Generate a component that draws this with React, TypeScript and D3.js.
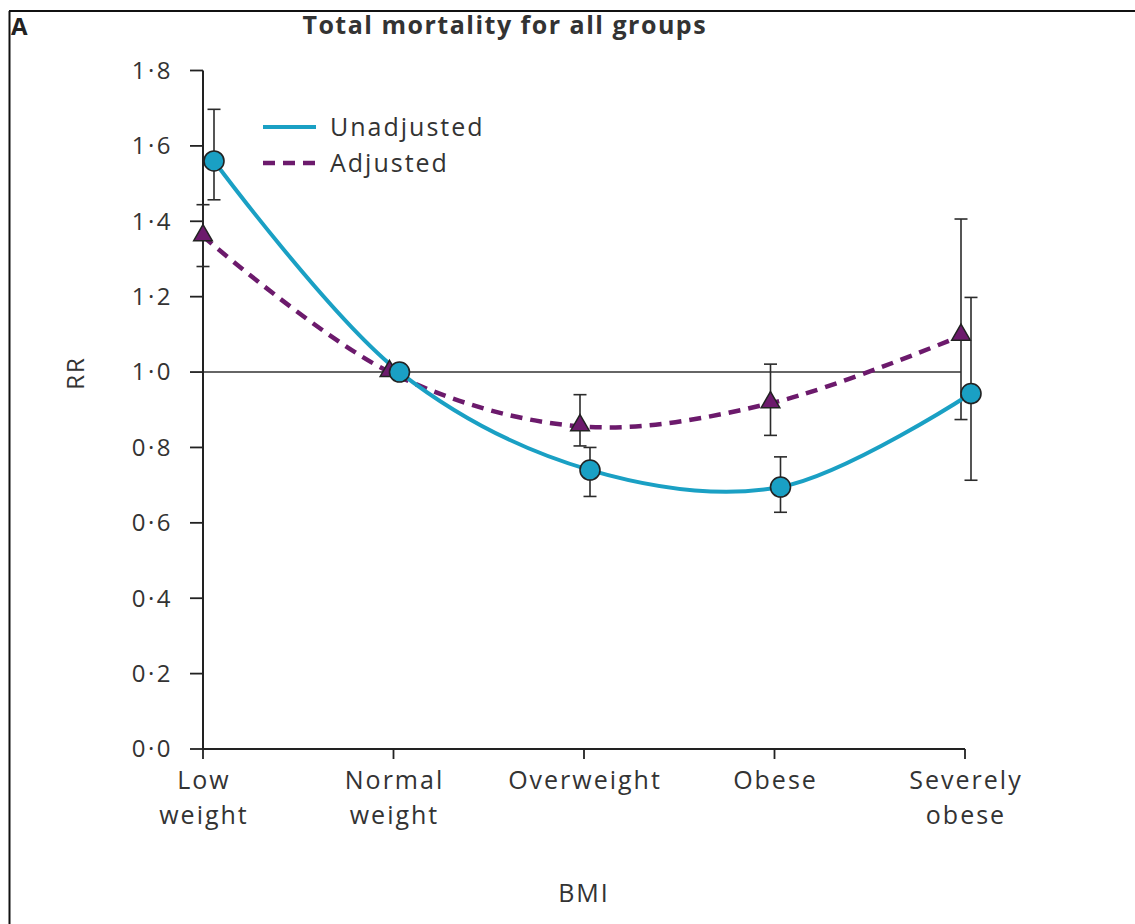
import React from "react";
import * as d3 from "d3";

// BMI categories (two-line axis labels)
const categories: string[][] = [
  ["Low", "weight"],
  ["Normal", "weight"],
  ["Overweight"],
  ["Obese"],
  ["Severely", "obese"],
];

// Relative risk, unadjusted model
const unadjusted = [1.56, 1.0, 0.74, 0.695, 0.943];
const unadjustedLow = [1.457, null, 0.67, 0.628, 0.713];
const unadjustedHigh = [1.697, null, 0.8, 0.775, 1.198];

// Relative risk, adjusted model
const adjusted = [1.36, 1.0, 0.856, 0.917, 1.096];
const adjustedLow = [1.28, null, 0.804, 0.832, 0.874];
const adjustedHigh = [1.444, null, 0.94, 1.021, 1.406];

const yTicks = [0, 0.2, 0.4, 0.6, 0.8, 1.0, 1.2, 1.4, 1.6, 1.8];

const W = 1135;
const H = 924;
const FONT = "'Open Sans', Lato, sans-serif";
const TEXT = "#333";
const TEAL = "#1aa0c4";
const PURPLE = "#6c1a6c";
const LS = 2; // letter spacing for labels

const fmt = (v: number) => v.toFixed(1).replace(".", "\u00b7");

export default function App() {
  const x = d3
    .scalePoint<number>()
    .domain(categories.map((_, i) => i))
    .range([203, 965]);
  const y = d3.scaleLinear().domain([0, 1.8]).range([749, 70.5]);

  const dodgeAdj = -4;
  const dodgeUnadj = 6;

  const line = d3
    .line<[number, number]>()
    .x((d) => d[0])
    .y((d) => d[1])
    .curve(d3.curveCatmullRom.alpha(0.5));

  const unadjPts: [number, number][] = unadjusted.map((v, i) => [
    (x(i) as number) + dodgeUnadj + (i === 0 ? 5 : 0),
    y(v),
  ]);
  const adjPts: [number, number][] = adjusted.map((v, i) => [
    Math.max(x(0) as number, (x(i) as number) + dodgeAdj),
    y(v),
  ]);

  const x0 = x(0) as number;
  const xN = x(categories.length - 1) as number;

  const errorBar = (
    cx: number,
    lo: number | null,
    hi: number | null,
    key: string
  ) => {
    if (lo == null || hi == null) return null;
    const cap = 6.5;
    return (
      <g key={key} stroke="#2b2b2b" strokeWidth={1.6} fill="none">
        <line x1={cx} x2={cx} y1={y(hi)} y2={y(lo)} />
        <line x1={cx - cap} x2={cx + cap} y1={y(hi)} y2={y(hi)} />
        <line x1={cx - cap} x2={cx + cap} y1={y(lo)} y2={y(lo)} />
      </g>
    );
  };

  const tri = d3.symbol(d3.symbolTriangle, 150)();

  return (
    <svg
      width={W}
      height={H}
      style={{ position: "absolute", left: 0, top: 0, display: "block", background: "#fff" }}
      fontFamily={FONT}
    >
      {/* panel frame: top and left rules */}
      <line x1={9} x2={W} y1={11} y2={11} stroke="#111" strokeWidth={2} />
      <line x1={9.5} x2={9.5} y1={11} y2={H} stroke="#111" strokeWidth={2} />

      <text x={11} y={35} fontSize={24} fontWeight={700} fill="#222">
        A
      </text>
      <text
        x={504 + 0.75}
        y={34}
        fontSize={25}
        fontWeight={700}
        letterSpacing={1.5}
        fill="#333"
        textAnchor="middle"
      >
        Total mortality for all groups
      </text>

      {/* reference line at RR = 1 */}
      <line
        x1={x0}
        x2={(x(4) as number) + dodgeAdj}
        y1={y(1)}
        y2={y(1)}
        stroke="#333"
        strokeWidth={1.6}
      />

      {/* y axis */}
      <g>
        <line x1={x0} x2={x0} y1={y(1.8)} y2={y(0)} stroke="#222" strokeWidth={2} />
        {yTicks.map((t) => (
          <g key={t}>
            <line x1={x0 - 13} x2={x0} y1={y(t)} y2={y(t)} stroke="#222" strokeWidth={1.8} />
            <text
              x={173}
              y={y(t)}
              dy="0.35em"
              textAnchor="end"
              fontSize={24}
              letterSpacing={2.5}
              fill={TEXT}
            >
              {fmt(t)}
            </text>
          </g>
        ))}
      </g>

      {/* x axis */}
      <g>
        <line x1={x0} x2={xN} y1={y(0)} y2={y(0)} stroke="#222" strokeWidth={2} />
        {categories.map((c, i) => (
          <g key={i}>
            <line
              x1={x(i) as number}
              x2={x(i) as number}
              y1={y(0)}
              y2={y(0) + 10}
              stroke="#222"
              strokeWidth={1.8}
            />
            {c.map((s, j) => (
              <text
                key={j}
                x={(x(i) as number) + LS / 2}
                y={780 + j * 35}
                dy="0.35em"
                textAnchor="middle"
                fontSize={25}
                letterSpacing={LS}
                fill={TEXT}
              >
                {s}
              </text>
            ))}
          </g>
        ))}
      </g>

      <text
        transform={`translate(76, ${y(1) + 1}) rotate(-90)`}
        textAnchor="middle"
        dy="0.35em"
        fontSize={24}
        letterSpacing={LS}
        fill={TEXT}
      >
        RR
      </text>
      <text
        x={583 + LS / 2}
        y={893}
        dy="0.35em"
        textAnchor="middle"
        fontSize={25}
        letterSpacing={LS}
        fill={TEXT}
      >
        BMI
      </text>

      {/* error bars */}
      {adjusted.map((_, i) =>
        errorBar(adjPts[i][0], adjustedLow[i], adjustedHigh[i], "a" + i)
      )}
      {unadjusted.map((_, i) =>
        errorBar(unadjPts[i][0], unadjustedLow[i], unadjustedHigh[i], "u" + i)
      )}

      {/* fitted curves */}
      <path
        d={line(adjPts) || ""}
        fill="none"
        stroke={PURPLE}
        strokeWidth={4.5}
        strokeDasharray="12 8"
      />
      <path d={line(unadjPts) || ""} fill="none" stroke={TEAL} strokeWidth={4} />

      {/* markers */}
      {adjPts.map((p, i) => (
        <path
          key={"ta" + i}
          d={tri || ""}
          transform={`translate(${p[0]}, ${p[1] - 1})`}
          fill={PURPLE}
          stroke="#222"
          strokeWidth={1.5}
        />
      ))}
      {unadjPts.map((p, i) => (
        <circle
          key={"cu" + i}
          cx={p[0]}
          cy={p[1]}
          r={10}
          fill={TEAL}
          stroke="#222"
          strokeWidth={1.6}
        />
      ))}

      {/* legend */}
      <g>
        <line x1={263} x2={316} y1={127} y2={127} stroke={TEAL} strokeWidth={4} />
        <text x={330} y={127} dy="0.35em" fontSize={25} letterSpacing={LS} fill={TEXT}>
          Unadjusted
        </text>
        <line
          x1={263}
          x2={316}
          y1={163}
          y2={163}
          stroke={PURPLE}
          strokeWidth={4.5}
          strokeDasharray="12 8"
        />
        <text x={330} y={163} dy="0.35em" fontSize={25} letterSpacing={LS} fill={TEXT}>
          Adjusted
        </text>
      </g>
    </svg>
  );
}
